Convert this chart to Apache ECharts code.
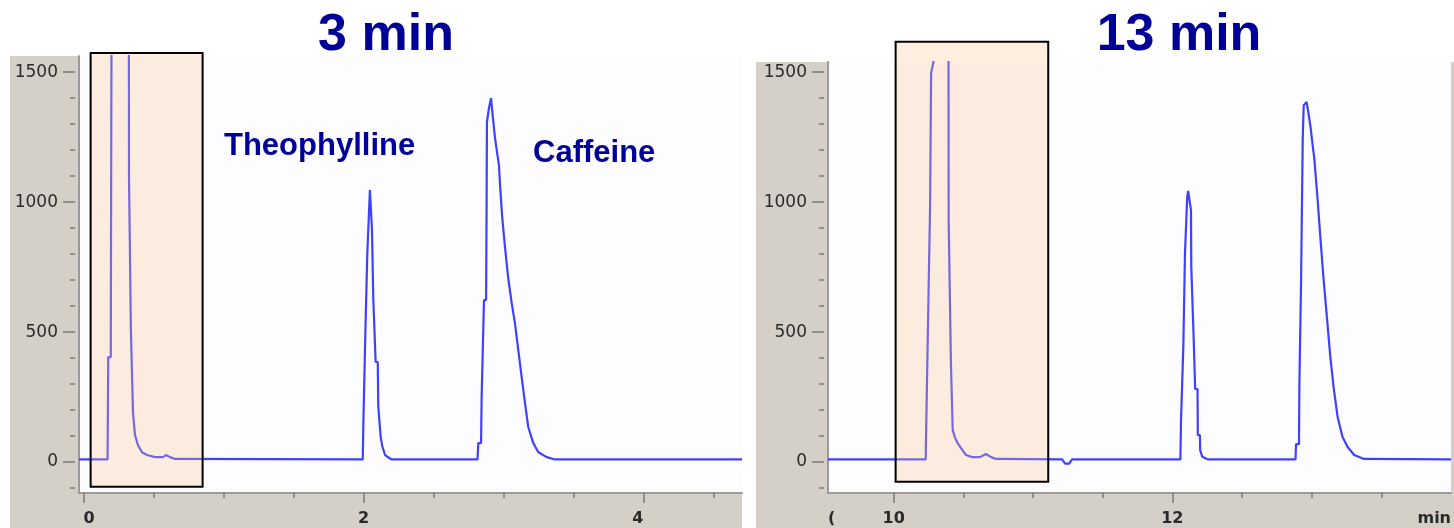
<!DOCTYPE html>
<html><head><meta charset="utf-8">
<script src="https://cdn.jsdelivr.net/npm/echarts@6/dist/echarts.min.js"></script>
<style>html,body{margin:0;padding:0;background:#fff}#c{width:1454px;height:528px}</style>
</head><body><div id="c"></div>
<script>
// ---- data (time in min, signal) ----
const leftTrace = [
  [-0.032,10],[0.172,10],[0.177,404],[0.195,404],[0.198,1169],[0.209,1169],[0.212,4000],[0.322,4000],[0.325,1104],[0.337,1104],[0.339,500],[0.352,500],[0.354,188],[0.368,104],[0.389,65],[0.418,38],[0.454,27],[0.511,19],[0.568,19],[0.589,27],[0.618,19],[0.654,12],
  [1.995,10],[1.999,142],[2.006,142],[2.011,438],[2.022,438],[2.027,796],[2.040,796],[2.046,1046],[2.058,1046],[2.061,892],[2.067,892],[2.070,631],[2.084,631],[2.087,385],[2.102,385],[2.106,212],[2.119,212],[2.123,96],[2.135,60],[2.154,27],[2.201,10],
  [2.815,10],[2.820,73],[2.840,73],[2.844,246],[2.857,246],[2.861,623],[2.876,623],[2.880,1038],[2.882,1308],[2.896,1360],[2.911,1400],[2.925,1323],[2.939,1250],[2.954,1192],[2.968,1142],[2.975,1073],[2.991,942],[3.011,827],[3.034,708],[3.059,611],[3.082,535],[3.106,431],[3.130,327],[3.154,227],[3.177,135],[3.213,73],[3.249,38],[3.309,19],[3.368,10],[4.704,10]
];
const rightTrace = [
  [9.529,10],[10.230,10],[10.234,142],[10.248,142],[10.262,1000],[10.269,1496],[10.286,1540],[10.290,4000],[10.390,4000],[10.395,924],[10.409,924],[10.411,386],[10.422,386],[10.424,123],[10.440,95],[10.459,73],[10.519,27],[10.564,19],[10.620,19],[10.662,31],[10.700,19],[10.734,12],
  [11.210,10],[11.230,-6],[11.260,-6],[11.280,10],
  [12.058,10],[12.062,151],[12.075,151],[12.079,444],[12.087,444],[12.091,805],[12.103,805],[12.107,1020],[12.114,1043],[12.121,1043],[12.128,990],[12.134,969],[12.136,754],[12.150,754],[12.152,496],[12.162,496],[12.164,281],[12.181,281],[12.183,104],[12.198,104],[12.200,46],[12.215,20],[12.257,10],
  [12.884,10],[12.888,69],[12.909,69],[12.912,303],[12.921,303],[12.924,693],[12.931,693],[12.936,1246],[12.943,1373],[12.964,1385],[12.979,1335],[12.993,1285],[13.007,1219],[13.019,1168],[13.043,1008],[13.062,867],[13.084,713],[13.107,572],[13.134,405],[13.157,290],[13.186,174],[13.221,97],[13.257,59],[13.305,27],[13.376,12],[14.0,10]
];
const leftBox = [[0.051, -95], [0.851, 1574]];
const rightBox = [[10.012, -76], [11.102, 1617]];
const leftRange = {x: [-0.032, 4.704], y: [-119, 1562]};
const rightRange = {x: [9.529, 14.0], y: [-119, 1539]};
// same scales, taller extent so the highlight boxes may rise above the plot top
const overlayYMax = 1662;
const yTickValues = [0, 500, 1000, 1500];
const yMinorTicks = [-100, 100, 200, 300, 400, 600, 700, 800, 900, 1100, 1200, 1300, 1400];
const leftXLabelValues = [0, 2, 4];
const leftXLabelText = ['0', '2', '4'];
const leftXMinor = [0.5, 1, 1.5, 2.5, 3, 3.5, 4.5];
const rightXLabelValues = [9.529, 10, 12, 14];
const rightXLabelText = ['(', '10', '12', 'min'];
const rightXMajor = [10, 12];
const rightXMinor = [10.5, 11, 11.5, 12.5, 13, 13.5];
const panelTitles = ['3 min', '13 min'];
const peakNames = ['Theophylline', 'Caffeine'];

// ---- styles ----
const GRAY = '#d4d0c8';
const AXIS = '#9a9a9a';
const TICK = '#7a7a7a';
const NAVY = '#000099';
const TRACE = '#4040ff';

function xAxes(grid, range, majors, labelVals, labelText, minors) {
  return [
    {type: 'value', gridIndex: grid, position: 'bottom', min: range.x[0], max: range.x[1],
     axisLine: {show: true, onZero: false, lineStyle: {color: AXIS, width: 2}},
     axisTick: {show: true, customValues: majors, length: 10, lineStyle: {color: TICK, width: 1.5}},
     axisLabel: {customValues: labelVals, showMinLabel: true, showMaxLabel: true,
       alignMinLabel: 'left', alignMaxLabel: 'right',
       formatter: v => { const i = labelVals.findIndex(u => Math.abs(u - v) < 1e-6); return i >= 0 ? labelText[i] : ''; },
       margin: 18, fontFamily: 'DejaVu Sans', fontWeight: 'bold', fontSize: 16, color: '#2a2a2a'},
     splitLine: {show: false}},
    {type: 'value', gridIndex: grid, position: 'bottom', min: range.x[0], max: range.x[1],
     axisLine: {show: false, onZero: false}, axisLabel: {show: false}, splitLine: {show: false},
     axisTick: {show: true, customValues: minors, length: 5, lineStyle: {color: TICK, width: 1.5}}}
  ];
}
function yAxes(grid, range) {
  return [
    {type: 'value', gridIndex: grid, position: 'left', min: range.y[0], max: range.y[1],
     axisLine: {show: true, onZero: false, lineStyle: {color: AXIS, width: 2}},
     axisTick: {show: false}, splitLine: {show: false},
     axisLabel: {customValues: yTickValues, formatter: v => String(v), margin: 21,
       fontFamily: 'DejaVu Sans', fontSize: 17, color: '#2a2a2a'}},
    {type: 'value', gridIndex: grid, position: 'left', offset: 4, min: range.y[0], max: range.y[1],
     axisLine: {show: false, onZero: false}, axisLabel: {show: false}, splitLine: {show: false},
     axisTick: {show: true, customValues: yTickValues, length: 12, lineStyle: {color: TICK, width: 1.5}}},
    {type: 'value', gridIndex: grid, position: 'left', offset: 4, min: range.y[0], max: range.y[1],
     axisLine: {show: false, onZero: false}, axisLabel: {show: false}, splitLine: {show: false},
     axisTick: {show: true, customValues: yMinorTicks, length: 5, lineStyle: {color: TICK, width: 1.5}}}
  ];
}
function hiddenX(grid, range) {
  return {type: 'value', gridIndex: grid, show: false, min: range.x[0], max: range.x[1], splitLine: {show: false}};
}
function hiddenY(grid, range) {
  return {type: 'value', gridIndex: grid, show: false, min: range.y[0], max: overlayYMax, splitLine: {show: false}};
}
function boxSeries(xi, yi, box) {
  return {type: 'line', xAxisIndex: xi, yAxisIndex: yi, data: [], z: 5, silent: true,
    markArea: {silent: true, z: 5,
      itemStyle: {color: 'rgba(250,200,150,0.3)', borderColor: '#000', borderWidth: 2},
      data: [[{coord: box[0]}, {coord: box[1]}]]}};
}

const chart = echarts.init(document.getElementById('c'), null, {renderer: 'canvas'});
chart.setOption({
  animation: false,
  backgroundColor: '#ffffff',
  grid: [
    {left: 79, right: 712, top: 56, bottom: 35, show: true, backgroundColor: '#fdfdff', borderWidth: 0, containLabel: false},
    {left: 828, right: 0, top: 62, bottom: 35, show: true, backgroundColor: '#fdfdff', borderWidth: 0, containLabel: false},
    // overlay grids (no drawing) with identical scales, top raised to 56 - (1662-1562)*0.26 = 30
    {left: 79, right: 712, top: 30, bottom: 35, show: false, containLabel: false},
    {left: 828, right: 0, top: 30, bottom: 35, show: false, containLabel: false}
  ],
  xAxis: [
    ...xAxes(0, leftRange, leftXLabelValues, leftXLabelValues, leftXLabelText, leftXMinor),
    ...xAxes(1, rightRange, rightXMajor, rightXLabelValues, rightXLabelText, rightXMinor),
    hiddenX(2, leftRange), hiddenX(3, rightRange)
  ],
  yAxis: [...yAxes(0, leftRange), ...yAxes(1, rightRange), hiddenY(2, leftRange), hiddenY(3, rightRange)],
  graphic: [
    {type: 'rect', z: -10, shape: {x: 10, y: 56, width: 732, height: 472}, style: {fill: GRAY}},
    {type: 'rect', z: -10, shape: {x: 756, y: 62, width: 698, height: 466}, style: {fill: GRAY}},
    {type: 'text', z: 100, x: 386, y: 36, style: {text: panelTitles[0], font: 'bold 52px "Liberation Sans", Arial, sans-serif', fill: NAVY, align: 'center', verticalAlign: 'middle'}},
    {type: 'text', z: 100, x: 1179, y: 36, style: {text: panelTitles[1], font: 'bold 52px "Liberation Sans", Arial, sans-serif', fill: NAVY, align: 'center', verticalAlign: 'middle'}},
    {type: 'text', z: 100, x: 224, y: 146, style: {text: peakNames[0], font: 'bold 31px "Liberation Sans", Arial, sans-serif', fill: NAVY, align: 'left', verticalAlign: 'middle'}},
    {type: 'text', z: 100, x: 533, y: 153, style: {text: peakNames[1], font: 'bold 31px "Liberation Sans", Arial, sans-serif', fill: NAVY, align: 'left', verticalAlign: 'middle'}}
  ],
  series: [
    {type: 'line', xAxisIndex: 0, yAxisIndex: 0, data: leftTrace, showSymbol: false, symbol: 'none', z: 2,
     lineStyle: {color: TRACE, width: 2.2}},
    {type: 'line', xAxisIndex: 2, yAxisIndex: 3, data: rightTrace, showSymbol: false, symbol: 'none', z: 2,
     lineStyle: {color: TRACE, width: 2.2}},
    boxSeries(4, 6, leftBox),
    boxSeries(5, 7, rightBox)
  ]
});
</script></body></html>
